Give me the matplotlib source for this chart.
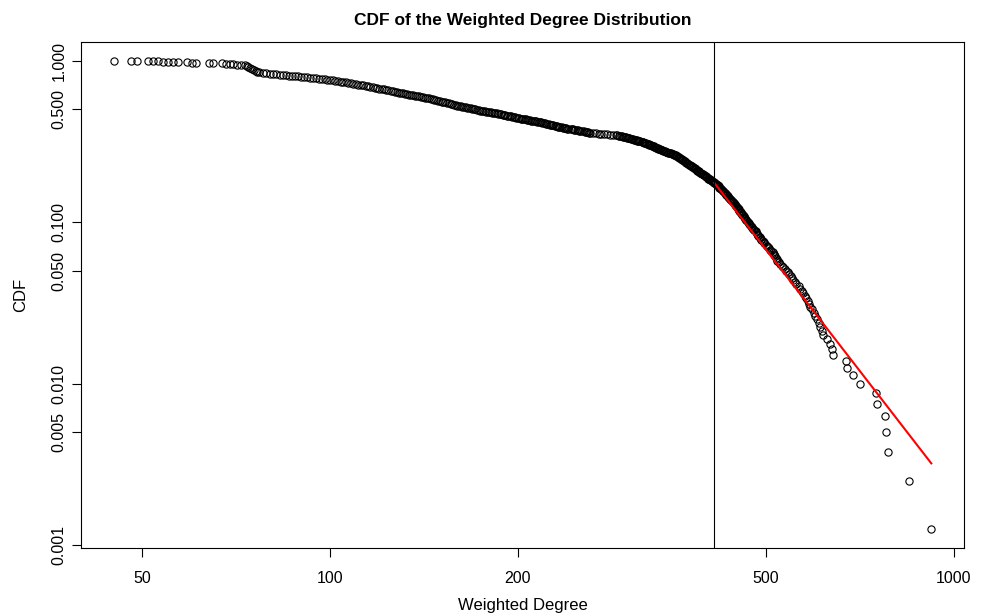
import numpy as np
import matplotlib
matplotlib.use("Agg")
import matplotlib.pyplot as plt

plt.rcParams['font.family'] = ['Liberation Sans', 'DejaVu Sans']

weighted_degree = [
    45, 48, 48, 49, 51, 51, 52, 52, 53, 53, 54, 54, 55, 55, 55, 56, 56, 57, 57, 59, 59, 60, 60,
    61, 61, 61, 64, 64, 65, 65, 67, 67, 67, 68, 68, 68, 69, 69, 69, 70, 70, 70, 71, 71, 71, 72, 72, 72,
    73.0, 73.0, 73.0, 73.0, 73.0, 73.0, 73.0, 73.0, 73.5, 73.5, 73.5, 73.5, 73.5, 73.5, 73.5, 73.5,
    74.0, 74.0, 74.0, 74.0, 74.0, 74.0, 74.0, 74.0, 74.0, 74.0, 74.0, 74.0,
    74.5, 74.5, 74.5, 74.5, 74.5, 74.5, 74.5, 74.5, 74.5, 74.5, 74.5, 74.5,
    75.0, 75.0, 75.0, 75.0, 75.0, 75.0, 75.0, 75.0, 75.0, 75.0, 75.0,
    75.5, 75.5, 75.5, 75.5, 75.5, 75.5, 75.5, 75.5, 75.5, 75.5, 75.5,
    76.0, 76.0, 76.0, 76.0, 76.0, 76.0, 76.0, 76.5, 76.5, 76.5, 76.5, 76.5, 76.5,
    77, 77, 77, 77, 78, 78, 78, 79, 79, 79, 79, 80, 80, 80, 81, 81, 81, 82, 82, 82, 83, 83, 83,
    84, 84, 84, 85, 85, 85, 86, 86, 86, 87, 87, 87, 88, 88, 88, 89, 89, 89, 90, 90, 90, 91, 91, 91, 92, 92,
    93, 93, 93, 94, 94, 94, 95, 95, 95, 96, 96, 96, 97, 97, 97, 98, 98, 98, 99, 99, 99, 100, 100, 100, 101, 101,
    102, 102, 102, 102, 103, 103, 103, 103, 104, 104, 104, 105, 105, 105, 105, 106, 106, 106,
    107, 107, 107, 107, 108, 108, 108, 109, 109, 109, 109, 110, 110, 110, 110, 111, 111, 111,
    112, 112, 112, 112, 113, 113, 113, 114, 114, 114, 114,
    115, 115, 115, 116, 116, 116, 116, 117, 117, 117, 118, 118, 118, 119, 119, 119, 119, 120, 120, 120,
    121, 121, 121, 122, 122, 122, 122, 123, 123, 123, 124, 124, 124, 125, 125, 125, 125,
    126, 126, 126, 127, 127, 127, 128, 128, 128, 128, 129, 129, 129,
    130, 130, 130, 131, 131, 131, 132, 132, 133, 133, 133, 134, 134, 134, 135, 135, 136, 136, 136,
    137, 137, 137, 138, 138, 139, 139, 139, 140, 140, 140, 141, 141, 142, 142, 142, 143, 143, 143,
    144, 144, 145, 145, 145, 146, 146, 146,
    147, 147, 147, 148, 148, 148, 149, 149, 149, 150, 150, 150, 151, 151, 151, 152, 152, 152,
    153, 153, 153, 154, 154, 155, 155, 155, 156, 156, 156, 157, 157, 157, 158, 158, 158, 159, 159,
    160, 160, 160, 161, 161,
    162, 162, 163, 163, 164, 164, 165, 165, 166, 166, 167, 167, 168, 168, 169, 169, 170, 170,
    171, 171, 172, 172, 173, 173, 174, 174, 175, 176,
    177, 177, 178, 179, 179, 180, 181, 181, 182, 183, 183, 184, 185, 185, 186, 187, 187, 188,
    189, 189, 190, 191, 191, 192, 193, 193, 194, 195, 195, 196, 197, 197, 198, 198, 199, 199,
    200, 201, 201, 202, 203, 204, 205, 206, 206, 207, 208, 209, 210, 211, 212, 213, 214,
    215, 215, 216, 217, 218, 218, 219, 220, 221, 221, 222, 223, 224, 224, 225, 226, 227, 227,
    228, 229, 230, 230, 231, 232, 233, 233, 234, 235, 236,
    237, 238, 239, 240, 241, 243, 244, 245, 246, 247, 249, 250, 251, 252, 253, 255, 256, 257,
    258, 259, 260, 261, 264, 267, 270, 272, 275, 278, 281, 284, 287, 288, 290, 291, 293, 294, 295,
    296, 297, 298, 299, 300, 301, 302, 304, 305, 306, 307, 308, 309, 310, 311, 312, 313, 314, 316, 317,
    318, 319, 320, 320, 321, 322, 323, 324, 325, 325, 326, 327, 328, 329, 330, 330, 331, 332,
    333, 334, 335, 335, 336, 337, 338,
    339, 340, 341, 342, 343, 344, 345, 346, 347, 348, 349, 351, 352, 353, 354, 355, 356, 357, 358, 359,
    360, 360, 361, 362, 362, 363, 364, 364, 365, 366, 366, 367, 368, 368, 369, 370, 370, 371,
    372, 373, 374, 374, 375, 376, 377, 378, 378, 379, 380, 381, 382, 382, 383, 384, 385, 386, 386,
    387, 388, 389, 390, 390, 391, 392,
    393, 394, 395, 396, 397, 398, 399, 400, 401, 402, 402, 403, 404, 405, 406, 407, 408, 409, 410, 411, 412,
    413, 414, 415, 416, 417, 418, 419, 420, 420, 421, 422, 423, 424, 425, 425, 426, 427, 428, 429,
    430, 430, 431, 432, 433, 434, 435, 435, 436, 437, 438, 439, 440, 441, 442, 443, 444, 445, 445,
    446, 447, 448, 449, 450, 451, 452, 452, 453, 454, 455, 456, 457, 458, 459,
    460, 461, 462, 463, 464, 465, 466, 467, 469, 470, 471, 473, 474, 475, 477, 478, 479, 481, 482,
    484, 485, 486, 488, 489,
    490, 491, 494, 496, 497, 500, 502, 503, 506, 508, 509, 512, 514, 515, 517, 518, 520, 521,
    524, 527, 530, 533, 536, 539, 542, 545, 548, 551, 553, 556, 559, 564, 566,
    570, 573, 578, 580, 583, 586, 589, 592, 596, 600, 604, 608, 611,
    614, 618, 626, 633, 637, 639, 672, 674, 688, 708, 751, 754, 776, 779, 785, 848, 920,
]

# fitted power law (xmin and line end points)
xmin = 413
fit_x = [413, 920]
fit_y = [0.175, 0.0032]

y_ticks = [0.001, 0.005, 0.010, 0.050, 0.100, 0.500, 1.000]
x_ticks = [50, 100, 200, 500, 1000]

deg = np.array(weighted_degree, dtype=float)
vals, counts = np.unique(deg, return_counts=True)
n = counts.sum()
cdf = counts[::-1].cumsum()[::-1] / n


def r_lim(lo, hi):
    # R style 4% padding on a log axis
    l, h = np.log10(lo), np.log10(hi)
    p = 0.04 * (h - l)
    return 10 ** (l - p), 10 ** (h + p)


fig = plt.figure(figsize=(9.86, 6.16), dpi=100)
ax = fig.add_axes([81 / 986, 1 - 548 / 616, (964 - 81) / 986, (548 - 42) / 616])

ax.set_xscale('log')
ax.set_yscale('log')

ax.plot(vals, cdf, 'o', mfc='none', mec='black', ms=5.2, mew=0.8)
ax.plot(fit_x, fit_y, color='red', lw=1.5)
ax.axvline(xmin, color='black', lw=0.8)

ax.set_xlim(*r_lim(vals.min(), vals.max()))
ax.set_ylim(*r_lim(cdf.min(), cdf.max()))

ax.set_xticks(x_ticks)
ax.set_xticklabels([str(t) for t in x_ticks])
ax.set_yticks(y_ticks)
ax.set_yticklabels([f'{t:.3f}' for t in y_ticks])
ax.minorticks_off()
ax.tick_params(axis='both', direction='out', length=6.5, width=0.8, labelsize=11.5)
ax.tick_params(axis='x', pad=10)
ax.tick_params(axis='y', pad=4)
for lab in ax.get_yticklabels():
    lab.set_rotation(90)
    lab.set_va('center')

for s in ax.spines.values():
    s.set_linewidth(0.8)

ax.set_xlabel('Weighted Degree', fontsize=12, labelpad=9)
ax.set_ylabel('CDF', fontsize=12, labelpad=17)
ax.set_title('CDF of the Weighted Degree Distribution', fontsize=12.5, fontweight='bold', pad=12)

fig.savefig('out.png', dpi=100)
